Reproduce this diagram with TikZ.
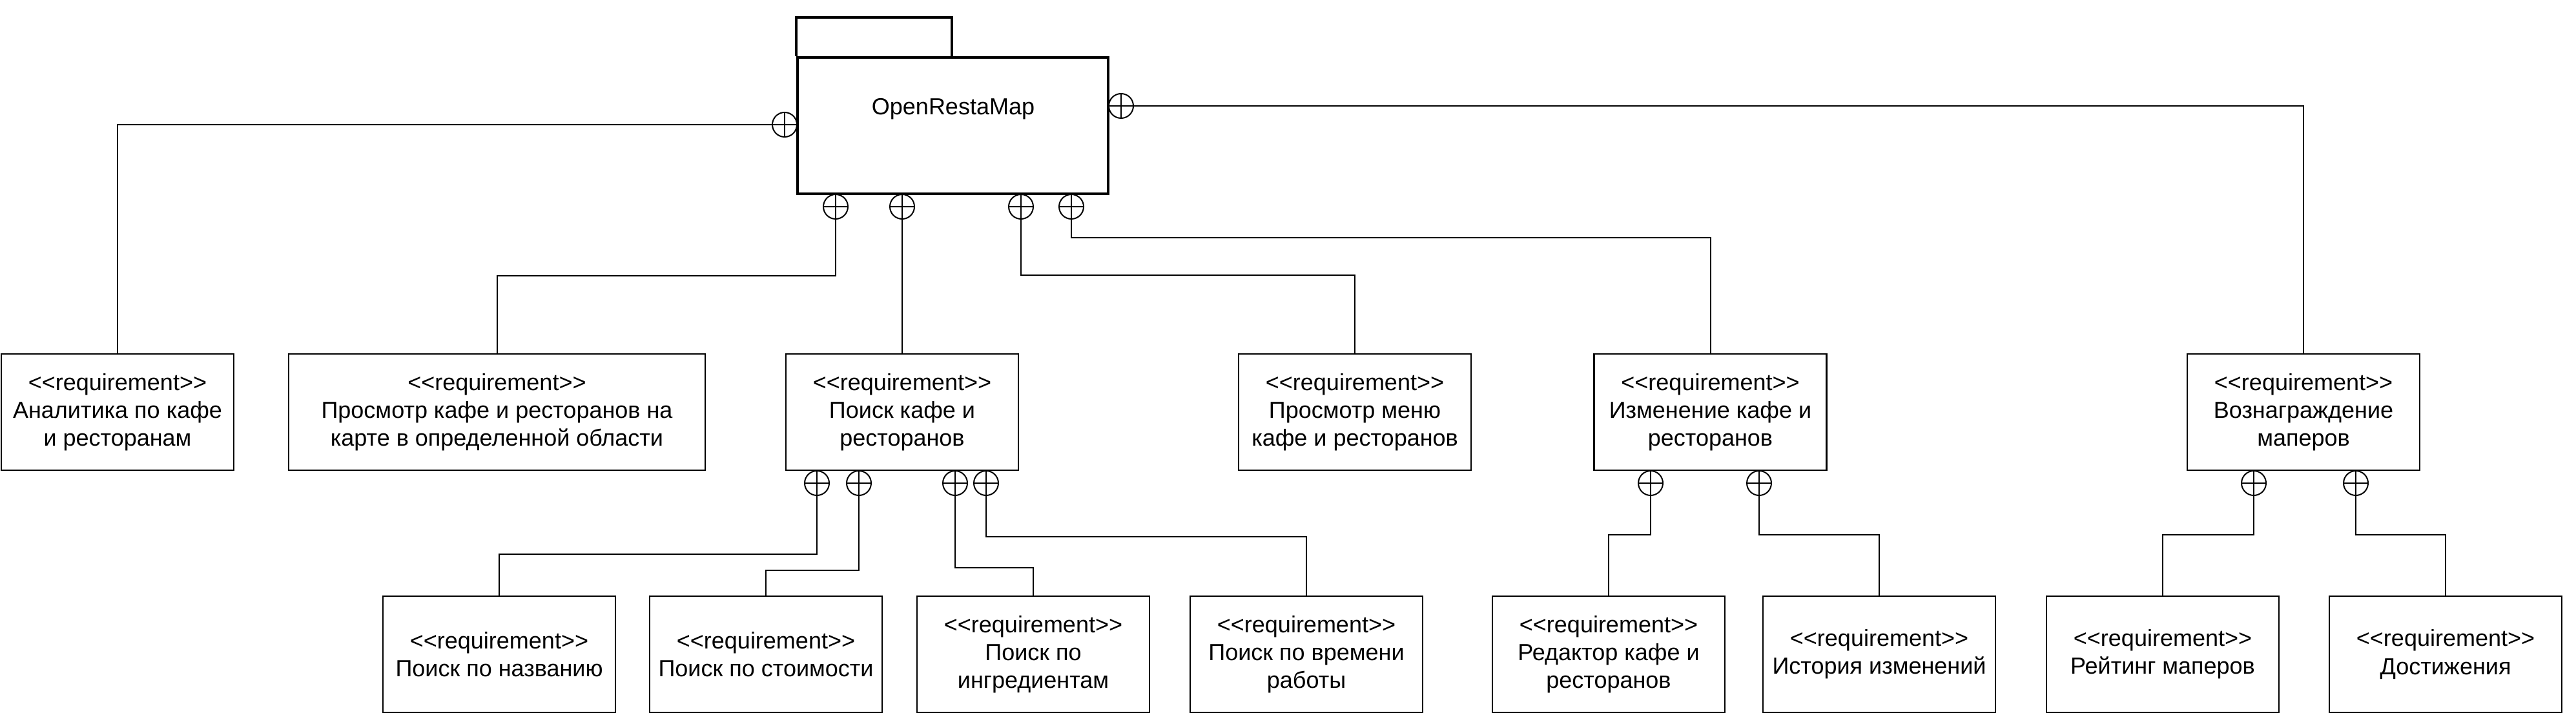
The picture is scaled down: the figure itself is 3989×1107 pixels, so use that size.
\documentclass[tikz,border=0pt]{standalone}
\usepackage{fontspec}
\setmainfont{Liberation Sans}
\usepackage{tikz}
\tikzstyle{link} = [line width=1pt]
\tikzset{every node/.style={align=center}}
\newcommand{\reqtag}{<\kern0pt<requirement>\kern0pt>}

\begin{document}
\begin{tikzpicture}[
    x=0.5pt, y=-0.5pt,
    req/.style={rectangle, draw, line width=1.3pt, minimum width=180pt,
                minimum height=90pt, inner sep=0pt, font=\fontsize{18}{21.6}\selectfont},
    pkg/.style={rectangle, draw, line width=2.2pt, minimum width=240.5pt,
                minimum height=105.5pt, inner sep=0pt},
    contain/.style={circle, draw, line width=1pt, minimum size=19pt, inner sep=0pt,
                path picture={\draw[line width=1pt]
                  (path picture bounding box.north) -- (path picture bounding box.south)
                  (path picture bounding box.west) -- (path picture bounding box.east);}}
]
  \useasboundingbox (0,0) rectangle (3989,1107);

  % --- Package ---
  \node[pkg] (pkg) at (1475.5,194.5) {};
  \draw[line width=2.2pt] (pkg.north west) |- ++(241,-60) -- ++(0,60);
  \node[font=\fontsize{18}{21.6}\selectfont] (pkgname) at (1476,169) {OpenRestaMap};

  % --- First level ---
  \node[req] (analytics) at (182,638)    {\reqtag\\Аналитика по кафе\\и ресторанам};
  \node[req, minimum width=322.5pt] (mapview) at (769.5,638)
        {\reqtag\\Просмотр кафе и ресторанов на\\карте в определенной области};
  \node[req] (search)    at (1397,638)   {\reqtag\\Поиск кафе и\\ресторанов};
  \node[req] (menu)      at (2098,638)   {\reqtag\\Просмотр меню\\кафе и ресторанов};
  \node[req] (edit)      at (2648.5,638) {\reqtag\\Изменение кафе и\\ресторанов};
  \node[req] (reward)    at (3567,638)   {\reqtag\\Вознаграждение\\маперов};

  \node[contain, anchor=east]  (cL)  at (1235,193) {};
  \node[contain, anchor=west]  (cR)  at (1716,164) {};
  \node[contain, anchor=north] (cB1) at (1294,300) {};
  \node[contain, anchor=north] (cB2) at (1397,300) {};
  \node[contain, anchor=north] (cB3) at (1581,300) {};
  \node[contain, anchor=north] (cB4) at (1659,300) {};

  \draw[link] (cL.west)  -| (analytics.north);
  \draw[link] (cB1.south) -- ++(0,87) -| (mapview.north);
  \draw[link] (cB2.south) -- (search.north);
  \draw[link] (cB3.south) -- ++(0,86) -| (menu.north);
  \draw[link] (cB4.south) -- ++(0,28) -| (edit.north);
  \draw[link] (cR.east)  -| (reward.north);

  % --- Search details ---
  \node[req] (byname)  at (773,1013)  {\reqtag\\Поиск по названию};
  \node[req] (byprice) at (1186,1013) {\reqtag\\Поиск по стоимости};
  \node[req] (byingr)  at (1600,1013) {\reqtag\\Поиск по\\ингредиентам};
  \node[req] (bytime)  at (2023,1013) {\reqtag\\Поиск по времени\\работы};

  \node[contain, anchor=north] (s1) at (1265,728) {};
  \node[contain, anchor=north] (s2) at (1330,728) {};
  \node[contain, anchor=north] (s3) at (1479,728) {};
  \node[contain, anchor=north] (s4) at (1527,728) {};

  \draw[link] (s1.south) -- ++(0,90)  -| (byname.north);
  \draw[link] (s2.south) -- ++(0,115) -| (byprice.north);
  \draw[link] (s3.south) -- ++(0,111) -| (byingr.north);
  \draw[link] (s4.south) -- ++(0,63)  -| (bytime.north);

  % --- Edit details ---
  \node[req] (editor)  at (2491,1013) {\reqtag\\Редактор кафе и\\ресторанов};
  \node[req] (history) at (2910,1013) {\reqtag\\История изменений};

  \node[contain, anchor=north] (e1) at (2556,728) {};
  \node[contain, anchor=north] (e2) at (2724,728) {};

  \draw[link] (e1.south) -- ++(0,60) -| (editor.north);
  \draw[link] (e2.south) -- ++(0,60) -| (history.north);

  % --- Reward details ---
  \node[req] (rating) at (3349,1013) {\reqtag\\Рейтинг маперов};
  \node[req] (achiev) at (3787,1013) {\reqtag\\Достижения};

  \node[contain, anchor=north] (r1) at (3490,728) {};
  \node[contain, anchor=north] (r2) at (3648,728) {};

  \draw[link] (r1.south) -- ++(0,60) -| (rating.north);
  \draw[link] (r2.south) -- ++(0,60) -| (achiev.north);
\end{tikzpicture}
\end{document}
